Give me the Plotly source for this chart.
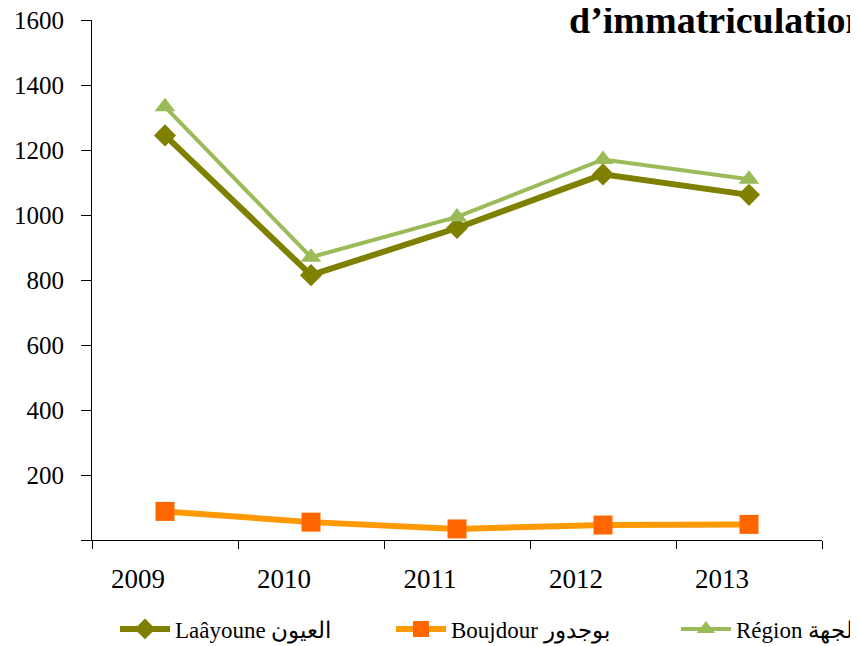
import plotly.graph_objects as go

years = ["2009", "2010", "2011", "2012", "2013"]
laayoune = [1245, 815, 960, 1125, 1062]
boujdour = [88, 55, 34, 46, 48]
region = [1333, 870, 994, 1171, 1110]
y_ticks = [0, 200, 400, 600, 800, 1000, 1200, 1400, 1600]
y_labels = ["", "200", "400", "600", "800", "1000", "1200", "1400", "1600"]

xpos = list(range(len(years)))
serif = "Liberation Serif, Times New Roman, serif"
W, H = 850, 638

fig = go.Figure()
fig.add_trace(go.Scatter(
    x=xpos, y=laayoune, name="Laâyoune العيون", mode="lines+markers",
    line=dict(color="#7F7F00", width=6), legend="legend",
    marker=dict(symbol="diamond", size=17, color="#7F7F00")))
fig.add_trace(go.Scatter(
    x=xpos, y=boujdour, name="Boujdour بوجدور", mode="lines+markers",
    line=dict(color="#FF9900", width=6), legend="legend2",
    marker=dict(symbol="square", size=19, color="#FF6600")))
fig.add_trace(go.Scatter(
    x=xpos, y=region, name="Région الجهة", mode="lines+markers",
    line=dict(color="#9BBB59", width=4), legend="legend3",
    marker=dict(symbol="triangle-up", size=18, color="#9BBB59")))
# invisible trace on label axis
fig.add_trace(go.Scatter(x=xpos, y=region, xaxis="x2", mode="markers",
                         marker=dict(opacity=0), showlegend=False, hoverinfo="skip"))

def leg(xpx):
    return dict(orientation="h", xref="container", yref="container",
                x=xpx / W, y=17 / H, xanchor="left", yanchor="middle",
                font=dict(family=serif, size=23, color="#000000"),
                itemwidth=50, bgcolor="rgba(0,0,0,0)")

fig.update_layout(
    width=W, height=H,
    margin=dict(l=84, r=36, t=12, b=106, autoexpand=False),
    paper_bgcolor="white", plot_bgcolor="white",
    font=dict(family=serif, size=25, color="#000000"),
    showlegend=True,
    legend=leg(107), legend2=leg(383), legend3=leg(668),
    xaxis=dict(range=[-0.5, 4.5], tickvals=[-0.5, 0.5, 1.5, 2.5, 3.5, 4.5],
               showticklabels=False, ticks="outside", ticklen=8, tickcolor="#000",
               showline=True, linecolor="#000", linewidth=1, showgrid=False,
               zeroline=False),
    xaxis2=dict(range=[-0.5, 4.5], overlaying="x", side="bottom", anchor="y",
                tickvals=[i - 0.185 for i in xpos], ticktext=years, ticks="",
                showline=False, showgrid=False, zeroline=False,
                ticklabelstandoff=20, ticklabeloverflow="allow",
                tickfont=dict(family=serif, size=27, color="#000")),
    yaxis=dict(range=[0, 1600], tickvals=y_ticks, ticktext=y_labels,
               ticks="outside", ticklen=10, tickcolor="#000",
               showline=True, linecolor="#000", linewidth=1, showgrid=False,
               zeroline=False, ticklabelstandoff=12, ticklabeloverflow="allow",
               tickfont=dict(family=serif, size=25, color="#000")),
    annotations=[dict(text="<b>d’immatriculation</b>", xref="paper", yref="paper",
                      x=0.651, y=0.956, xanchor="left", yanchor="bottom",
                      showarrow=False,
                      font=dict(family=serif, size=38, color="#000"))],
)

fig.write_html("out.html")
